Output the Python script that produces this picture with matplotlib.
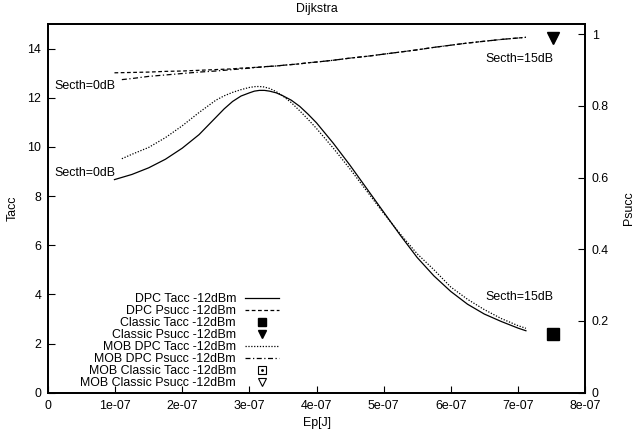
import matplotlib
matplotlib.use('Agg')
import matplotlib.pyplot as plt
from matplotlib.lines import Line2D
from matplotlib.legend_handler import HandlerTuple

plt.rcParams['font.family'] = ['Liberation Sans', 'DejaVu Sans']
plt.rcParams['font.size'] = 8.95

# Ep values in units of 1e-07 J
dpc_x = [0.99, 1.25, 1.5, 1.75, 2.0, 2.25, 2.5, 2.625, 2.75, 2.875, 3.0, 3.075, 3.15, 3.225, 3.3,
         3.4, 3.5, 3.625, 3.75, 3.875, 4.0, 4.25, 4.5, 4.75, 5.0, 5.25, 5.5, 5.75, 6.0, 6.25,
         6.5, 6.75, 7.0, 7.12]
dpc_tacc = [8.67, 8.88, 9.15, 9.5, 9.95, 10.5, 11.2, 11.55, 11.85, 12.07, 12.2, 12.27, 12.3, 12.3, 12.27,
            12.2, 12.08, 11.9, 11.65, 11.33, 10.98, 10.15, 9.25, 8.3, 7.35, 6.4, 5.5, 4.75, 4.12, 3.6,
            3.2, 2.9, 2.63, 2.52]
dpc_psucc = [0.892, 0.893, 0.894, 0.896, 0.897, 0.899, 0.901, 0.902, 0.903, 0.905, 0.906, 0.907, 0.908, 0.909, 0.910,
             0.911, 0.913, 0.915, 0.917, 0.920, 0.922, 0.927, 0.933, 0.938, 0.944, 0.950, 0.956, 0.963, 0.969, 0.975,
             0.980, 0.985, 0.989, 0.991]

mob_x = [1.1, 1.25, 1.5, 1.75, 2.0, 2.25, 2.5, 2.625, 2.75, 2.875, 3.0, 3.1, 3.2, 3.3, 3.4,
         3.5, 3.625, 3.75, 3.875, 4.0, 4.25, 4.5, 4.75, 5.0, 5.25, 5.5, 5.75, 6.0, 6.25,
         6.5, 6.75, 7.0, 7.12]
mob_tacc = [9.52, 9.7, 9.98, 10.38, 10.86, 11.4, 11.9, 12.08, 12.22, 12.33, 12.42, 12.46, 12.45, 12.38, 12.25,
            12.07, 11.8, 11.47, 11.12, 10.75, 9.95, 9.1, 8.2, 7.3, 6.45, 5.65, 5.0, 4.3, 3.8,
            3.38, 3.02, 2.73, 2.62]
mob_psucc = [0.873, 0.876, 0.882, 0.886, 0.890, 0.894, 0.897, 0.899, 0.901, 0.903, 0.905, 0.907, 0.908, 0.910, 0.911,
             0.913, 0.915, 0.917, 0.920, 0.922, 0.927, 0.933, 0.938, 0.944, 0.950, 0.956, 0.963, 0.969, 0.975,
             0.980, 0.985, 0.989, 0.991]

classic_x = [7.53]
classic_tacc = [2.37]
classic_psucc = [0.99]
mob_classic_tacc = [2.37]
mob_classic_psucc = [0.99]

xticks = [0, 1, 2, 3, 4, 5, 6, 7, 8]
xticklabels = ['0', '1e-07', '2e-07', '3e-07', '4e-07', '5e-07', '6e-07', '7e-07', '8e-07']
yticks = [0, 2, 4, 6, 8, 10, 12, 14]
y2ticks = [0, 0.2, 0.4, 0.6, 0.8, 1]
y2ticklabels = ['0', '0.2', '0.4', '0.6', '0.8', '1']

fig = plt.figure(figsize=(6.36, 4.37), dpi=100)
ax = fig.add_axes([0.0755, 0.1014, 0.8443, 0.8436])
ax2 = ax.twinx()

lw = 0.9
dash = (0, (3, 2))
dot = (0, (1, 1.3))
dashdot = (0, (4, 2, 1, 2))
l1, = ax.plot(dpc_x, dpc_tacc, color='black', lw=lw, ls='-')
l2, = ax2.plot(dpc_x, dpc_psucc, color='black', lw=lw, ls=dash)
ax.plot(classic_x, mob_classic_tacc, color='black', ls='none', marker='s', ms=7,
        mfc='none', mew=0.8, zorder=1)
ax2.plot(classic_x, mob_classic_psucc, color='black', ls='none', marker='v', ms=7,
         mfc='none', mew=0.8, zorder=1)
ax.plot(classic_x, classic_tacc, color='black', ls='none', marker='s', ms=8)
ax2.plot(classic_x, classic_psucc, color='black', ls='none', marker='v', ms=9)
l3, = ax.plot(mob_x, mob_tacc, color='black', lw=lw, ls=dot)
l4, = ax2.plot(mob_x, mob_psucc, color='black', lw=lw, ls=dashdot)

ax.set_xlim(0, 8)
ax.set_ylim(0, 15)
ax2.set_ylim(0, 1.028)
ax.set_xticks(xticks)
ax.set_xticklabels(xticklabels)
ax.set_yticks(yticks)
ax2.set_yticks(y2ticks)
ax2.set_yticklabels(y2ticklabels)

ax.tick_params(axis='x', direction='in', length=5, width=0.8, top=False, pad=5)
ax.tick_params(axis='y', direction='in', length=5, width=0.8, right=False, pad=5)
ax2.tick_params(axis='y', direction='in', length=5, width=0.8, pad=5)
for a in (ax, ax2):
    for s in a.spines.values():
        s.set_linewidth(1.3)

ax.set_xlabel('Ep[J]', labelpad=4)
ax.set_ylabel('Tacc', labelpad=6)
ax2.set_ylabel('Psucc', labelpad=10)
ax.set_title('Dijkstra', fontsize=8.95, pad=9)

ax.text(1.01, 12.47, 'Secth=0dB', ha='right', va='center')
ax.text(1.01, 8.95, 'Secth=0dB', ha='right', va='center')
ax.text(7.03, 13.58, 'Secth=15dB', ha='center', va='center')
ax.text(7.03, 3.88, 'Secth=15dB', ha='center', va='center')

# smaller marker proxies for the key
k1 = Line2D([], [], color='black', ls='none', marker='s', ms=6)
k2 = Line2D([], [], color='black', ls='none', marker='v', ms=5.5)
k3 = Line2D([], [], color='black', ls='none', marker='s', ms=6, mfc='none', mew=0.8)
k3d = Line2D([], [], color='black', ls='none', marker='.', ms=2)
k4 = Line2D([], [], color='black', ls='none', marker='v', ms=5.5, mfc='none', mew=0.8)

handles = [l1, l2, k1, k2, l3, l4, (k3, k3d), k4]
labels = ['DPC Tacc -12dBm', 'DPC Psucc -12dBm', 'Classic Tacc -12dBm', 'Classic Psucc -12dBm',
          'MOB DPC Tacc -12dBm', 'MOB DPC Psucc -12dBm', 'MOB Classic Tacc -12dBm',
          'MOB Classic Psucc -12dBm']
ax2.legend(handles, labels, loc='lower right', bbox_to_anchor=(279 / 636, (437 - 389) / 437),
           bbox_transform=fig.transFigure, frameon=False, markerfirst=False,
           handlelength=2.7, handletextpad=0.75, labelspacing=0.0, borderpad=0, borderaxespad=0,
           numpoints=1, handler_map={tuple: HandlerTuple(ndivide=1)})

fig.savefig('out.png', dpi=100)
